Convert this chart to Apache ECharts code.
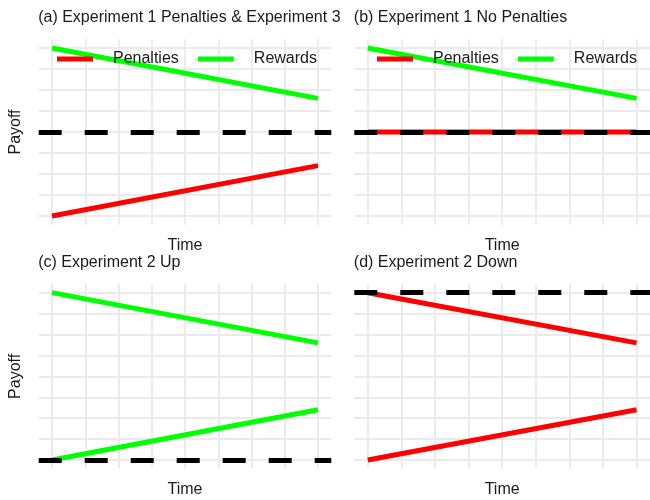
<!DOCTYPE html>
<html>
<head>
<meta charset="utf-8">
<script src="https://cdn.jsdelivr.net/npm/echarts@6/dist/echarts.min.js"></script>
<style>
  html, body { margin: 0; padding: 0; background: #fff; }
  #chart { width: 650px; height: 500px; }
</style>
</head>
<body>
<div id="chart"></div>
<script>
// Time runs from the first to the last step of each schedule.
const time = [0, 8];

// Grid breaks (major and minor) for each axis.
const timeBreaks = [0, 1, 2, 3, 4, 5, 6, 7, 8];
const signedBreaks = [-1, -0.75, -0.5, -0.25, 0, 0.25, 0.5, 0.75, 1];
const unitBreaks = [0, 0.125, 0.25, 0.375, 0.5, 0.625, 0.75, 0.875, 1];

// (a) Experiment 1 Penalties & Experiment 3
const rewardsA = [1, 0.4];
const penaltiesA = [-1, -0.4];
const baselineA = 0;

// (b) Experiment 1 No Penalties
const rewardsB = [1, 0.4];
const penaltiesB = [0, 0];
const baselineB = 0;

// (c) Experiment 2 Up
const rewardsHighC = [1, 0.7];
const rewardsLowC = [0, 0.3];
const baselineC = 0;

// (d) Experiment 2 Down
const penaltiesHighD = [1, 0.7];
const penaltiesLowD = [0, 0.3];
const baselineD = 1;

const panelTitles = [
  '(a) Experiment 1 Penalties & Experiment 3',
  '(b) Experiment 1 No Penalties',
  '(c) Experiment 2 Up',
  '(d) Experiment 2 Down'
];
const legendNames = ['Penalties', 'Rewards'];

const RED = '#ff0000';
const GREEN = '#00ff00';
const GRID_COLOR = '#ebebeb';
const TEXT = '#1a1a1a';
const FONT = '"Liberation Sans", Arial, Helvetica, sans-serif';

const pair = (xs, ys) => xs.map((x, i) => [x, ys[i]]);

// Panel boxes in pixels (left, top, width, height).
const panels = [
  { left: 38.7, top: 39.6, width: 292.6, height: 184.8 },
  { left: 354.3, top: 39.6, width: 301.4, height: 184.8 },
  { left: 38.7, top: 284.3, width: 292.6, height: 184.1 },
  { left: 354.3, top: 284.3, width: 301.4, height: 184.1 }
];

const splitStyle = { show: true, lineStyle: { color: GRID_COLOR, width: 2 } };

function xAxisFor(i) {
  return {
    type: 'value', gridIndex: i, min: -0.4, max: 8.4,
    axisLine: { show: false },
    axisTick: { show: false, customValues: timeBreaks },
    axisLabel: { show: false, customValues: timeBreaks },
    splitLine: splitStyle,
    name: 'Time', nameLocation: 'middle', nameGap: 13,
    nameTextStyle: { fontSize: 16, color: TEXT, fontFamily: FONT, verticalAlign: 'top' }
  };
}

function yAxisFor(i, breaks, pad, withName) {
  const lo = breaks[0], hi = breaks[breaks.length - 1];
  const span = (hi - lo) * pad;
  return {
    type: 'value', gridIndex: i, min: lo - span, max: hi + span,
    axisLine: { show: false },
    axisTick: { show: false, customValues: breaks },
    axisLabel: { show: false, customValues: breaks },
    splitLine: splitStyle,
    name: withName ? 'Payoff' : '', nameLocation: 'middle', nameGap: 15,
    nameTextStyle: { fontSize: 16, color: TEXT, fontFamily: FONT }
  };
}

function lineSeries(name, i, ys, color) {
  return {
    name: name, type: 'line', xAxisIndex: i, yAxisIndex: i,
    data: pair(time, ys), showSymbol: false, symbol: 'none',
    lineStyle: { color: color, width: 5, cap: 'butt' },
    itemStyle: { color: color },
    silent: true, animation: false, z: 2
  };
}

function baselineSeries(i, value) {
  return {
    name: 'baseline', type: 'line', xAxisIndex: i, yAxisIndex: i, data: [],
    z: 5, silent: true, animation: false,
    markLine: {
      silent: true, symbol: 'none', animation: false,
      label: { show: false },
      lineStyle: { color: '#000', width: 5, type: [23, 23], cap: 'butt' },
      emphasis: { disabled: true },
      data: [{ yAxis: value }]
    }
  };
}

function legendFor(left, top) {
  return {
    left: left, top: top, orient: 'horizontal', padding: 0,
    data: legendNames.map(n => ({ name: n, icon: 'rect' })),
    itemWidth: 36, itemHeight: 5, itemGap: 19,
    selectedMode: false,
    textStyle: { fontSize: 16, color: TEXT, fontFamily: FONT, padding: [0, 0, 0, 15] }
  };
}

const option = {
  animation: false,
  backgroundColor: '#ffffff',
  title: panelTitles.map((t, i) => ({
    text: t, left: panels[i].left - 0.5, top: i < 2 ? 10 : 255, padding: 0,
    textStyle: { fontSize: 16, fontWeight: 'normal', color: TEXT, fontFamily: FONT }
  })),
  legend: [legendFor(57, 51), legendFor(377, 51)],
  grid: panels.map(p => ({ left: p.left, top: p.top, width: p.width, height: p.height, containLabel: false })),
  xAxis: [0, 1, 2, 3].map(xAxisFor),
  yAxis: [
    yAxisFor(0, signedBreaks, 0.05, true),
    yAxisFor(1, signedBreaks, 0.05, false),
    yAxisFor(2, unitBreaks, 0.05, true),
    yAxisFor(3, unitBreaks, 0.05, false)
  ],
  series: [
    lineSeries('Penalties', 0, penaltiesA, RED),
    lineSeries('Rewards', 0, rewardsA, GREEN),
    baselineSeries(0, baselineA),

    lineSeries('Penalties', 1, penaltiesB, RED),
    lineSeries('Rewards', 1, rewardsB, GREEN),
    baselineSeries(1, baselineB),

    lineSeries('Rewards', 2, rewardsHighC, GREEN),
    lineSeries('Rewards', 2, rewardsLowC, GREEN),
    baselineSeries(2, baselineC),

    lineSeries('Penalties', 3, penaltiesHighD, RED),
    lineSeries('Penalties', 3, penaltiesLowD, RED),
    baselineSeries(3, baselineD)
  ]
};

const chart = echarts.init(document.getElementById('chart'), null, { renderer: 'canvas' });
chart.setOption(option);
</script>
</body>
</html>
